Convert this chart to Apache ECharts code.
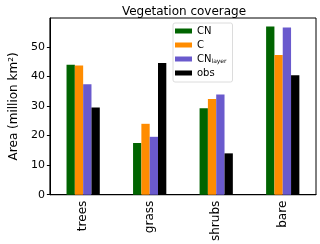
<!DOCTYPE html>
<html><head><meta charset="utf-8">
<script src="https://cdn.jsdelivr.net/npm/echarts@6/dist/echarts.min.js"></script>
<style>html,body{margin:0;padding:0;background:#fff}#c{width:320px;height:244px}</style>
</head><body><div id="c"></div>
<script>
const categories = ['trees', 'grass', 'shrubs', 'bare'];
const seriesNames = ['CN', 'C', 'CN_layer', 'obs'];
const cnValues = [44.0, 17.5, 29.3, 56.9];
const cValues = [43.7, 24.0, 32.4, 47.3];
const cnLayerValues = [37.4, 19.6, 33.9, 56.6];
const obsValues = [29.5, 44.6, 14.0, 40.4];
const yTicks = [0, 10, 20, 30, 40, 50];
const colors = ['#006400', '#ff8c00', '#6a5acd', '#000000'];
const allValues = [cnValues, cValues, cnLayerValues, obsValues];

const chart = echarts.init(document.getElementById('c'), null, {renderer: 'canvas'});
const font = 'DejaVu Sans';
chart.setOption({
  animation: false,
  textStyle: {fontFamily: font},
  title: {
    text: 'Vegetation coverage', left: 179, top: 1, textAlign: 'center',
    textStyle: {fontFamily: font, fontSize: 12, fontWeight: 'normal', color: '#000'}
  },
  legend: {
    orient: 'vertical', left: 173, top: 23,
    backgroundColor: '#fff', borderColor: '#dcdcdc', borderWidth: 1, borderRadius: 2,
    padding: [3, 6, 4, 2],
    itemWidth: 17, itemHeight: 5, itemGap: 4,
    data: seriesNames.map(n => ({name: n, icon: 'rect'})),
    formatter: function (n) { return n === 'CN_layer' ? 'CN{sub|layer}' : n; },
    textStyle: {
      fontFamily: font, fontSize: 10, color: '#000',
      rich: {sub: {fontSize: 6, verticalAlign: 'bottom', padding: [4, 0, 0, 0], fontFamily: font, color: '#000'}}
    }
  },
  grid: {left: 42, right: 4, top: 18, bottom: 48, show: true, borderColor: '#000', borderWidth: 1},
  xAxis: {
    type: 'category', data: categories,
    axisLine: {lineStyle: {color: '#000', width: 1}},
    axisTick: {alignWithLabel: true, length: 3, lineStyle: {color: '#000'}},
    axisLabel: {rotate: 90, fontSize: 12, color: '#000', margin: 6, fontFamily: font}
  },
  yAxis: {
    type: 'value', min: yTicks[0], max: 59.8, interval: 10,
    name: 'Area (million km²)', nameLocation: 'middle', nameGap: 28,
    nameTextStyle: {fontSize: 12, color: '#000', fontFamily: font},
    axisLine: {show: true, lineStyle: {color: '#000', width: 1}},
    axisTick: {show: true, length: 3, lineStyle: {color: '#000'}},
    axisLabel: {fontSize: 11, color: '#000', margin: 5, showMaxLabel: false, fontFamily: font},
    splitLine: {show: false}
  },
  series: seriesNames.map((n, i) => ({
    name: n, type: 'bar', data: allValues[i],
    barWidth: '12.5%', barGap: '0%',
    itemStyle: {color: colors[i]}
  }))
});
</script></body></html>
